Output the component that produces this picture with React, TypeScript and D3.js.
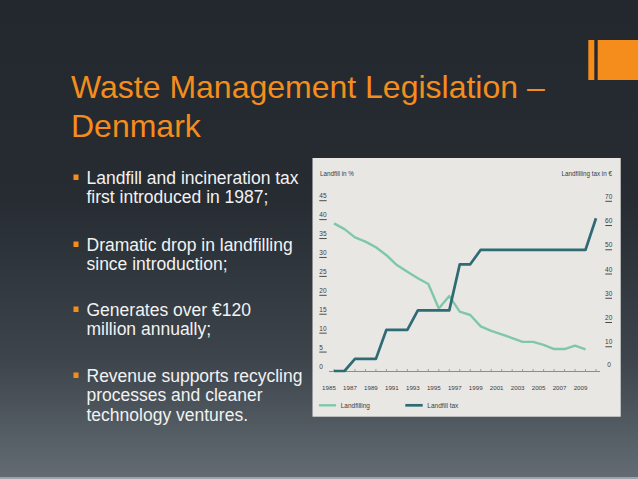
import React from 'react';
import * as d3 from 'd3';

const landfillYears = [1985, 1986, 1987, 1988, 1989, 1990, 1991, 1992, 1993, 1994, 1995, 1996, 1997, 1998, 1999, 2000, 2001, 2002, 2003, 2004, 2005, 2006, 2007, 2008, 2009];
const landfillPct = [39.0, 37.5, 35.3, 34.2, 32.7, 30.6, 28.0, 26.2, 24.5, 23.0, 16.5, 19.8, 15.7, 14.8, 11.8, 10.6, 9.7, 8.7, 7.7, 7.7, 6.9, 5.8, 5.8, 6.7, 5.7];
const taxYears = [1985, 1986, 1987, 1988, 1989, 1990, 1991, 1992, 1993, 1994, 1995, 1996, 1997, 1998, 1999, 2000, 2001, 2002, 2003, 2004, 2005, 2006, 2007, 2008, 2009, 2010];
const taxEuro = [0, 0, 5, 5, 5, 17, 17, 17, 25, 25, 25, 25, 44, 44, 50, 50, 50, 50, 50, 50, 50, 50, 50, 50, 50, 63];
const leftTicks = [0, 5, 10, 15, 20, 25, 30, 35, 40, 45];
const rightTicks = [0, 10, 20, 30, 40, 50, 60, 70];
const xLabelYears = [1985, 1987, 1989, 1991, 1993, 1995, 1997, 1999, 2001, 2003, 2005, 2007, 2009];
const bullets = [
  ['Landfill and incineration tax', 'first introduced in 1987;'],
  ['Dramatic drop in landfilling', 'since introduction;'],
  ['Generates over €120', 'million annually;'],
  ['Revenue supports recycling', 'processes and cleaner', 'technology ventures.'],
];
const bulletBaselines = [184, 251, 316, 382];

const W = 638;
const H = 479;
const LIGHT = '#7fc7aa';
const DARK = '#2f6b73';
const ORANGE = '#f58d1c';
const FONT = '"Liberation Sans", Arial, Helvetica, sans-serif';
const LABEL = '#3c3c3c';

export default function App() {
  const x = d3.scaleLinear().domain([1985, 2010]).range([334, 596]);
  const yL = d3.scaleLinear().domain([0, 45]).range([371, 200.7]);
  const yR = d3.scaleLinear().domain([0, 70]).range([371, 201.3]);

  const landfillLine = d3
    .line<number>()
    .x((_, i) => x(landfillYears[i]))
    .y((d) => yL(d));
  const taxLine = d3
    .line<number>()
    .x((_, i) => x(taxYears[i]))
    .y((d) => yR(d));

  const tickYears = taxYears;

  return (
    <svg
      width={W}
      height={H}
      viewBox={`0 0 ${W} ${H}`}
      style={{ position: 'fixed', left: 0, top: 0, display: 'block' }}
    >
      <defs>
        <linearGradient id="bg" x1="0" y1="0" x2="0" y2="1">
          <stop offset="0" stopColor="#22282e" />
          <stop offset="0.42" stopColor="#262c32" />
          <stop offset="0.75" stopColor="#3d444b" />
          <stop offset="1" stopColor="#636c74" />
        </linearGradient>
      </defs>
      <rect x={0} y={0} width={W} height={H} fill="url(#bg)" />
      <rect x={0} y={477} width={W} height={2} fill="#9ea4a9" />

      {/* decoration */}
      <rect x={588.3} y={40} width={6} height={40} fill={ORANGE} />
      <rect x={597.7} y={40} width={W - 597.7} height={40} fill={ORANGE} />

      {/* title */}
      <text x={71} y={98} fill={ORANGE} fontFamily={FONT} fontSize={32}>
        Waste Management Legislation –
      </text>
      <text x={71} y={136.5} fill={ORANGE} fontFamily={FONT} fontSize={32}>
        Denmark
      </text>

      {/* bullets */}
      {bullets.map((lines, bi) => (
        <g key={bi}>
          <rect x={73.5} y={bulletBaselines[bi] - 9.5} width={5} height={5.5} fill={ORANGE} />
          {lines.map((ln, li) => (
            <text
              key={li}
              x={86.5}
              y={bulletBaselines[bi] + li * 19.3}
              fill="#f2f2f2"
              fontFamily={FONT}
              fontSize={17.5}
            >
              {ln}
            </text>
          ))}
        </g>
      ))}

      {/* chart panel */}
      <rect x={312.5} y={158} width={308.2} height={258.7} fill="#e9e7e4" />

      <text x={320} y={176} fill={LABEL} fontFamily={FONT} fontSize={6.3}>
        Landfill in %
      </text>
      <text x={612} y={176} fill={LABEL} fontFamily={FONT} fontSize={6.3} textAnchor="end">
        Landfilling tax in €
      </text>

      {/* left ticks */}
      {leftTicks.map((t) => (
        <g key={'l' + t}>
          <text x={319.3} y={yL(t) - 2.5} fill={LABEL} fontFamily={FONT} fontSize={6.5}>
            {t}
          </text>
          {t !== 0 && (
            <line x1={319.3} x2={326.7} y1={yL(t)} y2={yL(t)} stroke="#3a3a3a" strokeWidth={0.9} />
          )}
        </g>
      ))}

      {/* right ticks */}
      {rightTicks.map((t) => (
        <g key={'r' + t}>
          <text
            x={t === 0 ? 609 : 608.7}
            y={yR(t) - (t === 0 ? 4 : 2.5)}
            fill={LABEL}
            fontFamily={FONT}
            fontSize={6.5}
            textAnchor="middle"
          >
            {t}
          </text>
          {t !== 0 && (
            <line x1={605.3} x2={612} y1={yR(t)} y2={yR(t)} stroke="#3a3a3a" strokeWidth={0.9} />
          )}
        </g>
      ))}

      {/* x axis */}
      <line x1={329} x2={600} y1={371.5} y2={371.5} stroke="#8d8d8d" strokeWidth={1.2} />
      {tickYears.map((yr) => (
        <line key={'t' + yr} x1={x(yr)} x2={x(yr)} y1={371.5} y2={369} stroke="#8d8d8d" strokeWidth={0.8} />
      ))}
      {xLabelYears.map((yr) => (
        <text
          key={'x' + yr}
          x={x(yr) - 5}
          y={390}
          fill={LABEL}
          fontFamily={FONT}
          fontSize={6.2}
          textAnchor="middle"
        >
          {yr}
        </text>
      ))}

      {/* series */}
      <path
        d={landfillLine(landfillPct) || ''}
        fill="none"
        stroke={LIGHT}
        strokeWidth={2.4}
        strokeLinejoin="round"
      />
      <path
        d={taxLine(taxEuro) || ''}
        fill="none"
        stroke={DARK}
        strokeWidth={2.7}
        strokeLinejoin="round"
      />

      {/* legend */}
      <line x1={319} x2={336} y1={405.3} y2={405.3} stroke={LIGHT} strokeWidth={2.4} />
      <text x={340.7} y={407.6} fill={LABEL} fontFamily={FONT} fontSize={6.5}>
        Landfilling
      </text>
      <line x1={405.3} x2={422.7} y1={405.3} y2={405.3} stroke={DARK} strokeWidth={2.7} />
      <text x={427.3} y={407.6} fill={LABEL} fontFamily={FONT} fontSize={6.5}>
        Landfill tax
      </text>
    </svg>
  );
}
